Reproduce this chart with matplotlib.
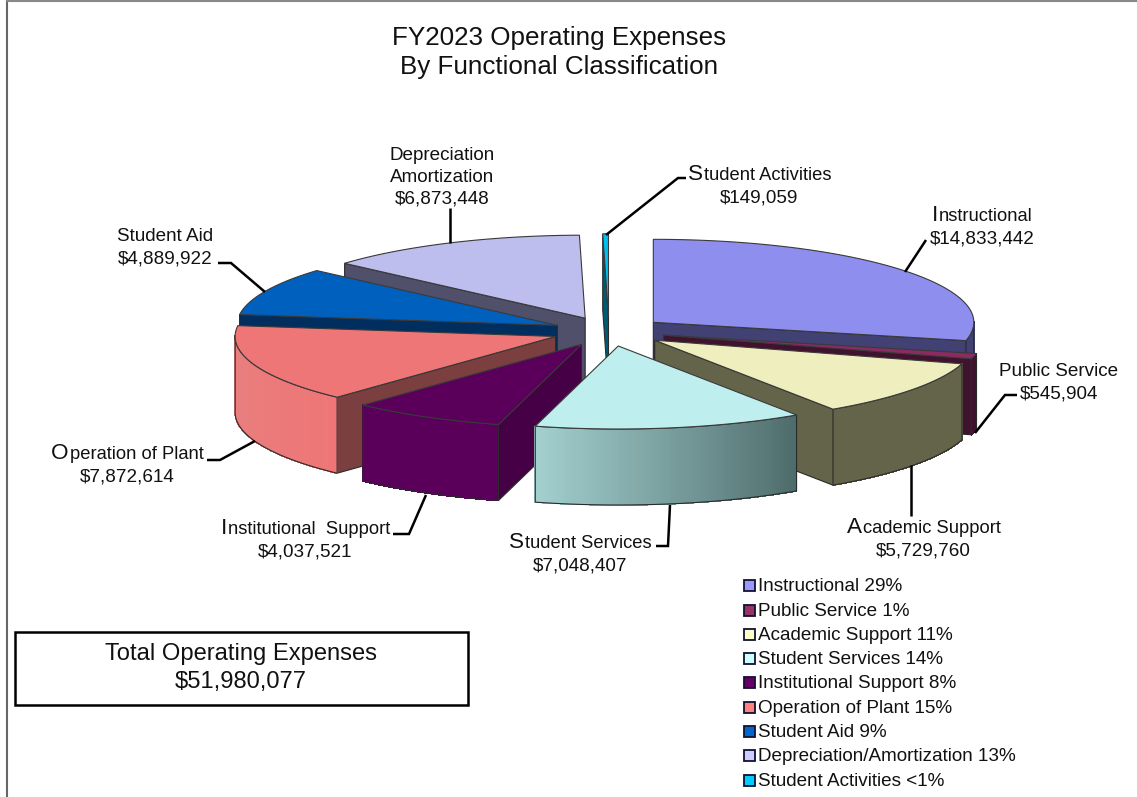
import numpy as np
import matplotlib
matplotlib.use("Agg")
import matplotlib.pyplot as plt
from matplotlib.patches import Polygon, Rectangle

# order is clockwise from 12 o'clock
names = ["Instructional", "Public Service", "Academic Support", "Student Services",
         "Institutional Support", "Operation of Plant", "Student Aid",
         "Depreciation/Amortization", "Student Activities"]
values = [14833442, 545904, 5729760, 7048407, 4037521, 7872614, 4889922, 6873448, 149059]
legend_pct = ["29%", "1%", "11%", "14%", "8%", "15%", "9%", "13%", "<1%"]
total_text = "$51,980,077"

top_colors = ["#8E8EEE", "#8C2A62", "#EEEEBE", "#BEEEEE", "#5A005A", "#EE7676", "#0060BE", "#BEBEEE", "#00BEEE"]
side_colors = ["#414173", "#41122E", "#64644B", "#4E6B6B", "#460046", "#7C3F3F", "#002E5E", "#50506A", "#005A72"]
rim_from = ["#414173", "#41122E", "#64644B", "#4E6B6B", "#5A005A", "#EE7676", "#002E5E", "#50506A", "#005A72"]
rim_to = ["#414173", "#41122E", "#64644B", "#A3CFCF", "#5A005A", "#E88080", "#002E5E", "#50506A", "#005A72"]
legend_colors = ["#9999FF", "#993366", "#FFFFCC", "#CCFFFF", "#660066", "#FF8080", "#0066CC", "#CCCCFF", "#00CCFF"]

# pie projection in image pixels
CX, CY = 609.0, 331.5
RX, RY = 320.5, 83.0
DEPTH = 76.0
EXPLODE = 0.177

FONT = "Liberation Sans"

fig = plt.figure(figsize=(11.37, 7.97), dpi=100)
ax = fig.add_axes([0, 0, 1, 1])
ax.set_xlim(0, 1137)
ax.set_ylim(797, 0)
ax.axis("off")


def project(theta_deg, radius, ox, oy):
    t = np.radians(theta_deg)
    return ox + RX * radius * np.sin(t), oy - RY * radius * np.cos(t)


def draw_slice(i, start, end):
    mid = np.radians((start + end) / 2)
    ox = CX + EXPLODE * RX * np.sin(mid)
    oy = CY - EXPLODE * RY * np.cos(mid)

    thetas = np.linspace(start, end, max(int(end - start) * 2, 2) + 1)
    xs, ys = project(thetas, 1.0, ox, oy)
    edge = "#2A2A2A"

    # flat sides, only those facing the viewer
    if np.sin(np.radians(start)) < 0:
        x0, y0 = xs[0], ys[0]
        ax.add_patch(Polygon([(ox, oy), (x0, y0), (x0, y0 + DEPTH), (ox, oy + DEPTH)],
                             fc=side_colors[i], ec=edge, lw=0.8))
    if np.sin(np.radians(end)) > 0:
        x1, y1 = xs[-1], ys[-1]
        ax.add_patch(Polygon([(ox, oy), (x1, y1), (x1, y1 + DEPTH), (ox, oy + DEPTH)],
                             fc=side_colors[i], ec=edge, lw=0.8))

    # curved rim with a left-right gradient
    front = np.cos(np.radians(thetas)) < 0.02
    if front.sum() > 1:
        fx, fy = xs[front], ys[front]
        c0 = np.array(matplotlib.colors.to_rgb(rim_from[i]))
        c1 = np.array(matplotlib.colors.to_rgb(rim_to[i]))
        for k in range(len(fx) - 1):
            f = k / max(len(fx) - 2, 1)
            col = c0 + (c1 - c0) * f
            ax.add_patch(Polygon([(fx[k], fy[k]), (fx[k + 1], fy[k + 1]),
                                  (fx[k + 1], fy[k + 1] + DEPTH), (fx[k], fy[k] + DEPTH)],
                                 fc=col, ec=col, lw=0.5, antialiased=False))
        outline_x = np.r_[fx, fx[::-1]]
        outline_y = np.r_[fy, fy[::-1] + DEPTH]
        ax.add_patch(Polygon(np.c_[outline_x, outline_y], fill=False, ec=edge, lw=0.8))

    # top face
    ax.add_patch(Polygon(np.c_[np.r_[ox, xs], np.r_[oy, ys]], fc=top_colors[i], ec="#3A3A3A", lw=0.8))


vals = np.array(values, dtype=float)
spans = vals / vals.sum() * 360
starts = np.r_[0, np.cumsum(spans)[:-1]]
ends = starts + spans
mids = (starts + ends) / 2

# back to front
for i in np.argsort(-np.cos(np.radians(mids))):
    draw_slice(i, starts[i], ends[i])

renderer = fig.canvas.get_renderer()


def label(cx, y0, lines, big_initial=False, size=13.6, line_h=22.5):
    """centered text lines, y0 is the first baseline; first letter can be larger"""
    for n, line in enumerate(lines):
        y = y0 + n * line_h
        if big_initial and n == 0:
            head = ax.text(0, y, line[0], fontsize=16.2, family=FONT, color="#111111", va="baseline", ha="left")
            tail = ax.text(0, y, line[1:], fontsize=13.2, family=FONT, color="#111111", va="baseline", ha="left")
            w0 = head.get_window_extent(renderer).width
            w1 = tail.get_window_extent(renderer).width
            left = cx - (w0 + w1) / 2
            head.set_x(left)
            tail.set_x(left + w0 + 1)
        else:
            ax.text(cx, y, line, fontsize=size, family=FONT, color="#111111", va="baseline", ha="center")


def money(v):
    return f"${v:,}"


label(759, 180, ["Student Activities", money(values[8])], True)
label(982, 221, ["Instructional", money(values[0])], True)
label(1059, 376, ["Public Service", money(values[1])])
label(923, 533, ["Academic Support", money(values[2])], True)
label(580, 548, ["Student Services", money(values[3])], True)
label(305, 534, ["Institutional  Support", money(values[4])], True)
label(127, 459, ["Operation of Plant", money(values[5])], True)
label(165, 241, ["Student Aid", money(values[6])])
label(442, 160, ["Depreciation", "Amortization", money(values[7])], line_h=21.5)

# leader lines
leaders = [
    [(606, 235), (678, 178), (686, 178)],
    [(905, 272), (926, 240)],
    [(975, 433), (1005, 395), (1017, 395)],
    [(911, 465), (911, 516)],
    [(670, 505), (668, 546), (656, 546)],
    [(426, 495), (409, 534), (393, 534)],
    [(255, 441), (220, 460), (207, 460)],
    [(265, 292), (231, 263), (218, 263)],
    [(450, 243), (450, 208)],
]
for pts in leaders:
    px, py = zip(*pts)
    ax.plot(px, py, color="black", lw=1.8, solid_capstyle="butt", solid_joinstyle="miter")

ax.text(559, 45, "FY2023 Operating Expenses", fontsize=18.7, family=FONT, ha="center", va="baseline", color="#111111")
ax.text(559, 74, "By Functional Classification", fontsize=18.7, family=FONT, ha="center", va="baseline", color="#111111")

# legend
legend_y = [585, 610, 634, 658, 682, 707, 731, 755, 780]
for i, y in enumerate(legend_y):
    ax.add_patch(Rectangle((744, y - 5.5), 11, 11, fc=legend_colors[i], ec="#111133", lw=1.3))
    name = names[i]
    ax.text(758, y + 6, f"{name} {legend_pct[i]}", fontsize=13.6, family=FONT, color="#111111", va="baseline", ha="left")

# total box
ax.add_patch(Rectangle((15, 632), 453, 73, fc="white", ec="black", lw=1.8))
ax.text(241, 660, "Total Operating Expenses", fontsize=17.1, family=FONT, ha="center", va="baseline", color="#111111")
ax.text(241, 688, total_text, fontsize=17.1, family=FONT, ha="center", va="baseline", color="#111111")

# chart frame, left and top only
ax.plot([7, 7], [797, 1], color="#666666", lw=1.5)
ax.plot([7, 1137], [1, 1], color="#888888", lw=1.5)

fig.savefig("out.png", dpi=100)
plt.close(fig)
